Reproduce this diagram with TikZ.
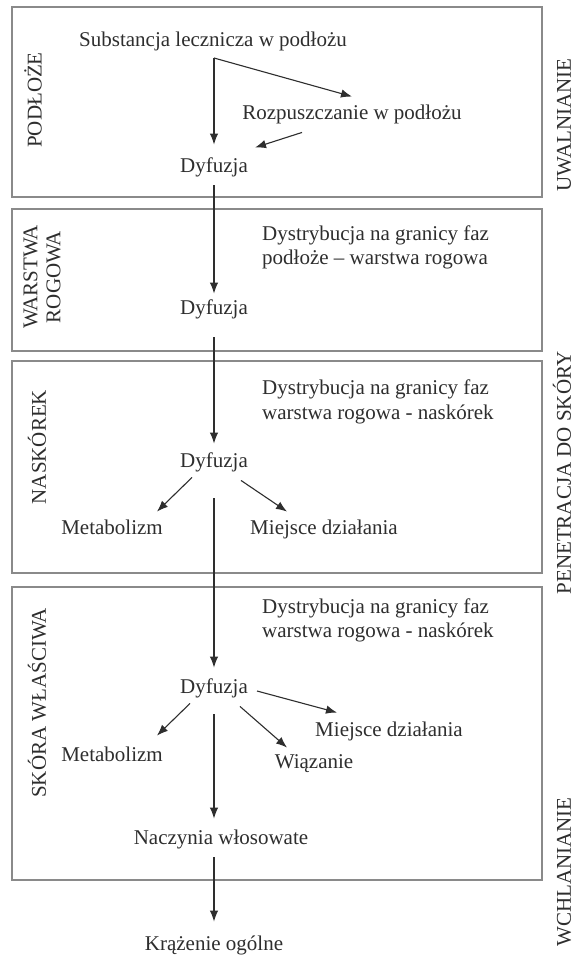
\documentclass[tikz,border=0pt]{standalone}
\usepackage{fontspec}
\setmainfont{Liberation Serif}
\usetikzlibrary{arrows.meta}
\definecolor{ink}{HTML}{2E2E2E}
\definecolor{boxgray}{HTML}{8A8A8A}
\begin{document}
\begin{tikzpicture}[x=1pt,y=-1pt,
  txt/.style={font=\fontsize{21}{24}\selectfont, text=ink, inner sep=2pt, text height=14pt, text depth=4.5pt},
  lab/.style={font=\fontsize{21}{23}\selectfont, text=ink, rotate=90, inner sep=0pt, align=center},
  dist/.style={font=\fontsize{21}{24.5}\selectfont, text=ink, align=left, anchor=west, inner sep=0pt},
  box/.style={draw=boxgray, line width=1.4pt},
  arr/.style={draw=ink, line width=1.1pt, -{Latex[length=11pt,width=8.5pt]}}]
\fill[white] (0,0) rectangle (578,958);
\useasboundingbox (0,0) rectangle (578,958);
% boxes
\draw[box] (12,7) rectangle (542,197);
\draw[box] (12,209) rectangle (542,351);
\draw[box] (12,361) rectangle (542,573);
\draw[box] (12,587) rectangle (542,880);
% texts
\node[txt] (subst) at (213,42) {Substancja lecznicza w podłożu};
\coordinate (j) at (214,58);
\node[txt] (rozp) at (352,115) {Rozpuszczanie w podłożu};
\node[txt] (d1) at (214,168) {Dyfuzja};
\node[dist] (dist2) at (262,247.5) {Dystrybucja na granicy faz\\podłoże – warstwa rogowa};
\node[txt] (d2) at (214,310) {Dyfuzja};
\node[dist] (dist3) at (262,402) {Dystrybucja na granicy faz\\warstwa rogowa - naskórek};
\node[txt] (d3) at (214,463) {Dyfuzja};
\node[txt] (m3) at (112,530) {Metabolizm};
\node[txt] (a3) at (324,530) {Miejsce działania};
\node[dist] (dist4) at (262,620.5) {Dystrybucja na granicy faz\\warstwa rogowa - naskórek};
\node[txt] (d4) at (214,689) {Dyfuzja};
\node[txt] (a4) at (389,732) {Miejsce działania};
\node[txt] (m4) at (112,757) {Metabolizm};
\node[txt] (w4) at (314,764) {Wiązanie};
\node[txt] (nacz) at (221,840) {Naczynia włosowate};
\node[txt] (kraz) at (214,946) {Krążenie ogólne};
% side labels
\node[lab] (lpod) at (33,100) {PODŁOŻE};
\node[lab] (lwar) at (42,277) {WARSTWA\\ROGOWA};
\node[lab] (lnas) at (37,447) {NASKÓREK};
\node[lab] (lsk) at (37,703) {SKÓRA WŁAŚCIWA};
\node[lab] (luw) at (564,125) {UWALNIANIE};
\node[lab] (lpen) at (562,473) {PENETRACJA DO SKÓRY};
\node[lab] (lwch) at (564,872) {WCHLANIANIE};
% connectors
\draw[arr, shorten >=12pt] (j) -- (d1);
\draw[arr] (j) -- ([shift={(0,-7)}]rozp.north);
\draw[arr] ([shift={(-50,6)}]rozp.south) -- ([shift={(5,-9)}]d1.north east);
\draw[arr, shorten <=6pt, shorten >=5pt] (d1) -- (d2);
\draw[arr, shorten <=16pt, shorten >=8pt] (d2) -- (d3);
\draw[arr, shorten <=24pt, shorten >=10pt] (d3) -- (d4);
\draw[arr] ([shift={(-22,3)}]d3.south) -- ([shift={(45,-7)}]m3.north);
\draw[arr] ([shift={(27,6)}]d3.south) -- ([shift={(-37,-7)}]a3.north);
\draw[arr] ([shift={(7,2)}]d4.east) -- ([shift={(-52,-8)}]a4.north);
\draw[arr] ([shift={(-24,3)}]d4.south) -- ([shift={(45,-10)}]m4.north);
\draw[arr] ([shift={(26,6)}]d4.south) -- ([shift={(-27,-5)}]w4.north);
\draw[arr, shorten <=14pt, shorten >=10pt] (d4.south) -- (d4.south |- nacz.north);
\draw[arr, shorten <=6pt, shorten >=13pt] (nacz.south -| kraz) -- (kraz.north);
\end{tikzpicture}
\end{document}
